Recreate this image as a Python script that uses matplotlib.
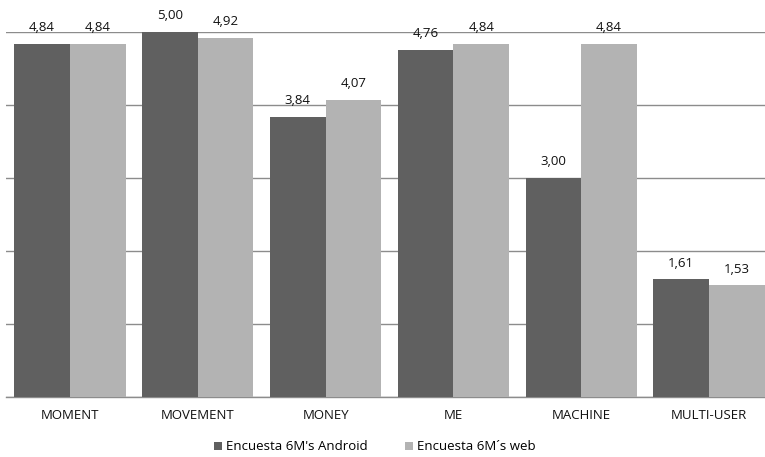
import matplotlib
matplotlib.use("Agg")
import matplotlib.pyplot as plt
import numpy as np

categories = ["MOMENT", "MOVEMENT", "MONEY", "ME", "MACHINE", "MULTI-USER"]
android = [4.84, 5.00, 3.84, 4.76, 3.00, 1.61]
web = [4.84, 4.92, 4.07, 4.84, 4.84, 1.53]
series_names = ["Encuesta 6M's Android", "Encuesta 6M\u00b4s web"]

plt.rcParams['font.family'] = ['Open Sans', 'DejaVu Sans']

W, H = 765, 457
fig = plt.figure(figsize=(W/100, H/100), dpi=100)
left = 6/W
right = 773/W
bottom = (H-397)/H
top = (H-32)/H
ax = fig.add_axes([left, bottom, right-left, top-bottom])

x = np.arange(len(categories))
bw = 0.435
dark = "#606060"
light = "#b3b3b3"
b1 = ax.bar(x - bw/2, android, bw, color=dark, label=series_names[0], zorder=3)
b2 = ax.bar(x + bw/2, web, bw, color=light, label=series_names[1], zorder=3)

def fmt(v):
    return f"{v:.2f}".replace(".", ",")

for rects, vals in ((b1, android), (b2, web)):
    for r, v in zip(rects, vals):
        ax.annotate(fmt(v), (r.get_x() + r.get_width()/2, v), xytext=(0, 7),
                    textcoords="offset points", ha="center", va="bottom",
                    fontsize=9.5, color="#111111", clip_on=False, annotation_clip=False)

ax.set_xlim(-0.5, len(categories) - 0.5)
ax.set_ylim(0, 5)
ax.set_yticks([0, 1, 2, 3, 4, 5])
ax.yaxis.grid(True, color="#8c8c8c", linewidth=1.0, zorder=0)
ax.tick_params(axis='y', left=False, labelleft=False)
ax.tick_params(axis='x', bottom=False, labelsize=9.5, pad=5, colors="#111111")
ax.set_xticks(x)
ax.set_xticklabels(categories)
for s in ["top", "right", "left"]:
    ax.spines[s].set_visible(False)
ax.spines["bottom"].set_color("#8c8c8c")
ax.spines["bottom"].set_linewidth(1.0)
ax.set_axisbelow(True)

leg = fig.legend(handles=[b1, b2], labels=series_names, loc="center",
                 bbox_to_anchor=(0.49, (H-447)/H), ncol=2, frameon=False,
                 fontsize=9.5, handlelength=0.6, handleheight=0.6,
                 handletextpad=0.3, columnspacing=2.8)

fig.savefig("out.png", dpi=100)
